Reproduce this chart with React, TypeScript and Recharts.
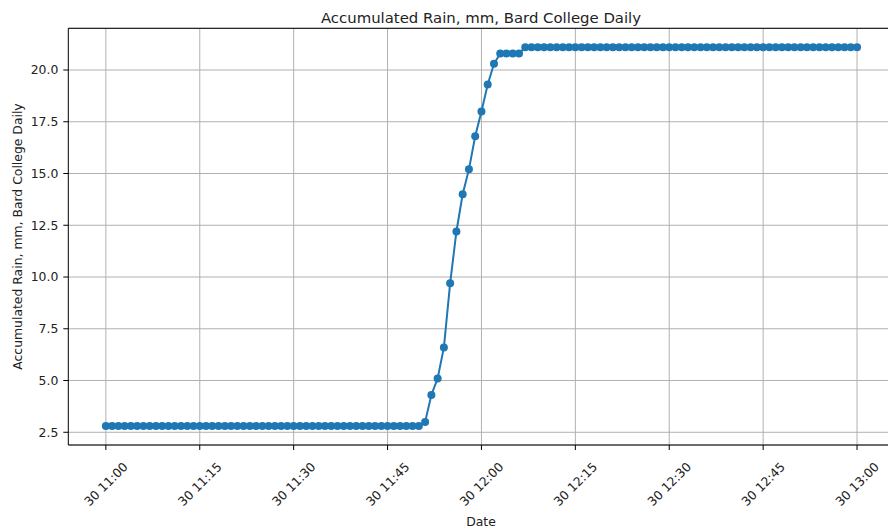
import React from "react";
import {
  LineChart,
  Line,
  XAxis,
  YAxis,
  CartesianGrid,
  ReferenceLine,
} from "recharts";

// Minutes after 30th 11:00 (one reading per minute)
const minuteTicks = [0, 15, 30, 45, 60, 75, 90, 105, 120];
const tickLabels = [
  "30 11:00",
  "30 11:15",
  "30 11:30",
  "30 11:45",
  "30 12:00",
  "30 12:15",
  "30 12:30",
  "30 12:45",
  "30 13:00",
];
const yTicks = [2.5, 5.0, 7.5, 10.0, 12.5, 15.0, 17.5, 20.0];

// Accumulated rain (mm), one value per minute from 11:00 to 13:00
const rain = [
  2.8, 2.8, 2.8, 2.8, 2.8, 2.8, 2.8, 2.8, 2.8, 2.8,
  2.8, 2.8, 2.8, 2.8, 2.8, 2.8, 2.8, 2.8, 2.8, 2.8,
  2.8, 2.8, 2.8, 2.8, 2.8, 2.8, 2.8, 2.8, 2.8, 2.8,
  2.8, 2.8, 2.8, 2.8, 2.8, 2.8, 2.8, 2.8, 2.8, 2.8,
  2.8, 2.8, 2.8, 2.8, 2.8, 2.8, 2.8, 2.8, 2.8, 2.8,
  2.8, 3.0, 4.3, 5.1, 6.6, 9.7, 12.2, 14.0, 15.2, 16.8,
  18.0, 19.3, 20.3, 20.8, 20.8, 20.8, 20.8, 21.1, 21.1, 21.1,
  21.1, 21.1, 21.1, 21.1, 21.1, 21.1, 21.1, 21.1, 21.1, 21.1,
  21.1, 21.1, 21.1, 21.1, 21.1, 21.1, 21.1, 21.1, 21.1, 21.1,
  21.1, 21.1, 21.1, 21.1, 21.1, 21.1, 21.1, 21.1, 21.1, 21.1,
  21.1, 21.1, 21.1, 21.1, 21.1, 21.1, 21.1, 21.1, 21.1, 21.1,
  21.1, 21.1, 21.1, 21.1, 21.1, 21.1, 21.1, 21.1, 21.1, 21.1,
  21.1,
];

const data = rain.map((v, i) => ({ t: i, rain: v }));

const FONT = "DejaVu Sans";
const X_MIN = -6;
const X_MAX = 126;
const Y_MIN = 1.885;
const Y_MAX = 22.015;

const XTick = (props: any) => {
  const { x, y, payload } = props;
  const idx = minuteTicks.indexOf(payload.value);
  const label = idx >= 0 ? tickLabels[idx] : "";
  const cy = y + 32;
  return (
    <text
      x={x}
      y={cy}
      textAnchor="middle"
      dominantBaseline="central"
      fontFamily={FONT}
      fontSize={12.4}
      fill="#222"
      transform={`rotate(-45, ${x}, ${cy})`}
    >
      {label}
    </text>
  );
};

export default function App() {
  return (
    <div
      style={{
        position: "fixed",
        left: 0,
        top: 0,
        width: 888,
        height: 532,
        overflow: "hidden",
        background: "#fff",
      }}
    >
      <LineChart
        width={888}
        height={532}
        data={data}
        style={{ overflow: "visible" }}
        margin={{ top: 28.3, right: -6.6, left: 0, bottom: 0 }}
      >
        <CartesianGrid stroke="#b0b0b0" strokeWidth={1} vertical={false} />
        {minuteTicks.map((t) => (
          <ReferenceLine key={t} x={t} stroke="#b0b0b0" strokeWidth={1} />
        ))}
        <XAxis
          dataKey="t"
          type="number"
          domain={[X_MIN, X_MAX]}
          ticks={minuteTicks}
          allowDataOverflow
          height={87}
          stroke="#000"
          tickSize={5}
          tickMargin={2}
          tick={<XTick />}
          interval={0}
        />
        <YAxis
          type="number"
          domain={[Y_MIN, Y_MAX]}
          ticks={yTicks}
          allowDataOverflow
          width={68.3}
          stroke="#000"
          tickSize={5}
          tickMargin={5}
          interval={0}
          tickFormatter={(v: number) => v.toFixed(1)}
          tick={{ fontFamily: FONT, fontSize: 12.4, fill: "#222" }}
        />
        <ReferenceLine y={Y_MAX} stroke="#000" strokeWidth={1} />
        <Line
          type="linear"
          dataKey="rain"
          stroke="#1f77b4"
          strokeWidth={2}
          dot={{ r: 4, fill: "#1f77b4", stroke: "none" }}
          activeDot={false}
          isAnimationActive={false}
        />
        <text x={481} y={23} textAnchor="middle" fontFamily={FONT} fontSize={14.9} fill="#222">
          Accumulated Rain, mm, Bard College Daily
        </text>
        <text x={481} y={526} textAnchor="middle" fontFamily={FONT} fontSize={12.4} fill="#222">
          Date
        </text>
        <text
          x={22}
          y={236.5}
          textAnchor="middle"
          fontFamily={FONT}
          fontSize={12.4}
          fill="#222"
          transform="rotate(-90, 22, 236.5)"
        >
          Accumulated Rain, mm, Bard College Daily
        </text>
      </LineChart>
    </div>
  );
}
